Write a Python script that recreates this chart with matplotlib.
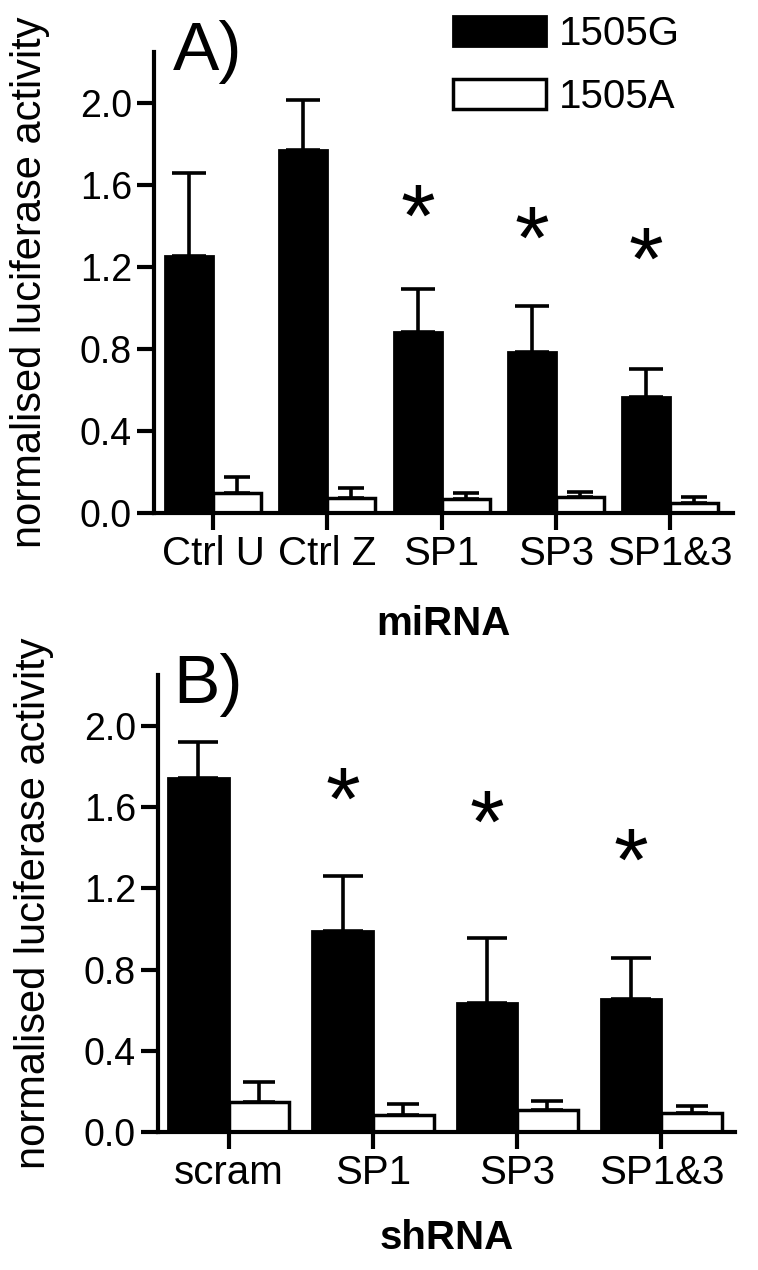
import matplotlib.pyplot as plt
import matplotlib.transforms as mtransforms
import numpy as np

plt.rcParams['font.family'] = ['Liberation Sans', 'DejaVu Sans']

# panel A - miRNA
mirna_labels = ['Ctrl U', 'Ctrl Z', 'SP1', 'SP3', 'SP1&3']
mirna_g = [1.256, 1.774, 0.885, 0.785, 0.566]
mirna_g_err = [0.402, 0.241, 0.207, 0.226, 0.135]
mirna_a = [0.097, 0.073, 0.068, 0.077, 0.048]
mirna_a_err = [0.077, 0.049, 0.031, 0.025, 0.029]
mirna_star_idx = [2, 3, 4]
mirna_star_y = [1.55, 1.445, 1.34]

# panel B - shRNA
shrna_labels = ['scram', 'SP1', 'SP3', 'SP1&3']
shrna_g = [1.741, 0.991, 0.637, 0.654]
shrna_g_err = [0.177, 0.269, 0.317, 0.204]
shrna_a = [0.150, 0.086, 0.106, 0.096]
shrna_a_err = [0.098, 0.051, 0.047, 0.030]
shrna_star_idx = [1, 2, 3]
shrna_star_y = [1.74, 1.628, 1.444]

W, H = 758, 1270
fig = plt.figure(figsize=(W / 100, H / 100), dpi=100)

STAR_SIZE = 64


def draw_panel(ax, labels, g, g_err, a, a_err, star_idx, star_y, xlim, cap_g, cap_a, xlabel, xlab_y):
    x = np.arange(len(labels))
    w = 0.42
    ax.bar(x - w / 2, g, w, color='black', edgecolor='black', linewidth=2, label='1505G')
    ax.bar(x + w / 2, a, w, color='white', edgecolor='black', linewidth=2.5, label='1505A')
    ax.errorbar(x - w / 2, g, yerr=[np.zeros(len(g)), g_err], fmt='none', ecolor='black',
                elinewidth=2.6, capsize=cap_g, capthick=2.6)
    ax.errorbar(x + w / 2, a, yerr=[np.zeros(len(a)), a_err], fmt='none', ecolor='black',
                elinewidth=2.6, capsize=cap_a, capthick=2.6)
    # the asterisk glyph sits high in its box, so pull the text down to centre the glyph
    star_tr = mtransforms.offset_copy(ax.transData, fig=fig, y=-0.31 * STAR_SIZE, units='points')
    for i, sy in zip(star_idx, star_y):
        ax.text(i - w / 2, sy, '*', fontsize=STAR_SIZE, ha='center', va='center', transform=star_tr)

    ax.set_xlim(*xlim)
    ax.set_ylim(0, 2.25)
    ax.set_yticks([0.0, 0.4, 0.8, 1.2, 1.6, 2.0])
    ax.set_yticklabels(['0.0', '0.4', '0.8', '1.2', '1.6', '2.0'])
    ax.set_xticks(x)
    ax.set_xticklabels(labels)
    for s in ['top', 'right']:
        ax.spines[s].set_visible(False)
    for s in ['left', 'bottom']:
        ax.spines[s].set_linewidth(3)
    ax.tick_params(axis='both', direction='out', length=12, width=3)
    ax.tick_params(axis='y', labelsize=27, pad=4)
    ax.tick_params(axis='x', labelsize=29, pad=4)
    ax.set_ylabel('normalised luciferase activity', fontsize=30)
    ax.yaxis.set_label_coords(-0.18, 0.5)
    ax.set_xlabel(xlabel, fontsize=29, fontweight='bold', va='top')
    ax.xaxis.set_label_coords(0.5, xlab_y)


ax_a = fig.add_axes([154 / W, 1 - 513 / H, 579 / W, 461 / H])
draw_panel(ax_a, mirna_labels, mirna_g, mirna_g_err, mirna_a, mirna_a_err,
           mirna_star_idx, mirna_star_y, (-0.516, 4.55), 12.5, 9.5, 'miRNA', -0.2)

ax_b = fig.add_axes([158 / W, 1 - 1132 / H, 577 / W, 457 / H])
draw_panel(ax_b, shrna_labels, shrna_g, shrna_g_err, shrna_a, shrna_a_err,
           shrna_star_idx, shrna_star_y, (-0.49, 3.51), 14.5, 11.5, 'shRNA', -0.19)

fig.text(173 / W, 1 - 70 / H, 'A)', fontsize=50, ha='left', va='baseline')
fig.text(173 / W, 1 - 703 / H, 'B)', fontsize=50, ha='left', va='baseline')

ax_a.legend(loc='upper left', bbox_to_anchor=(453 / W, 1 - 15 / H), bbox_transform=fig.transFigure,
            frameon=False, fontsize=29, handlelength=2.3, handleheight=0.8, handletextpad=0.33,
            labelspacing=0.62, borderpad=0, borderaxespad=0)

fig.savefig('out.png', dpi=100)
